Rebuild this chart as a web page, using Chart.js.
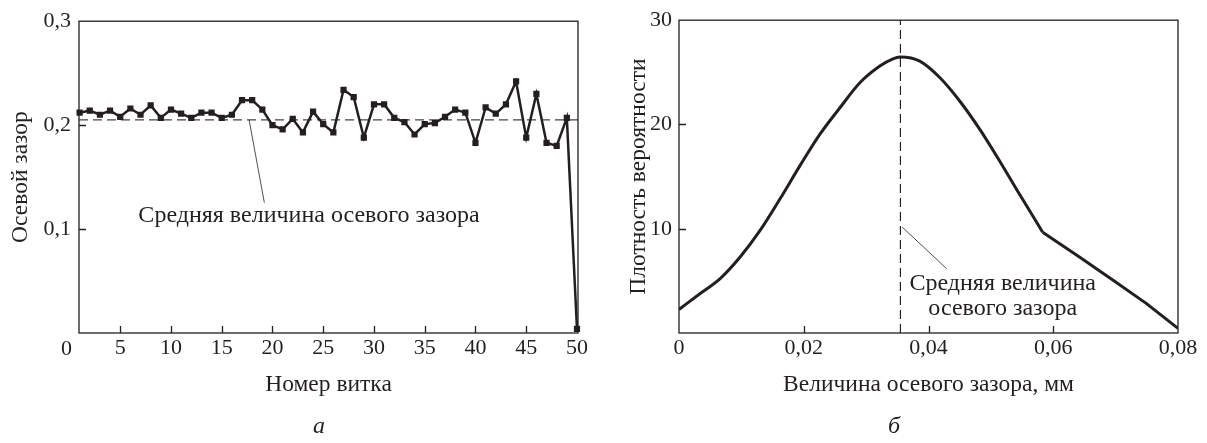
<!DOCTYPE html>
<html lang="ru">
<head>
<meta charset="utf-8">
<title>Осевой зазор</title>
<script src="https://cdn.jsdelivr.net/npm/chart.js@4.4.1/dist/chart.umd.min.js"></script>
<style>
  html, body { margin: 0; padding: 0; background: #fff; }
  #page { position: relative; width: 1207px; height: 443px; overflow: hidden; }
  .panel { position: absolute; top: 0; height: 443px; }
  .caption { position: absolute; top: 412px; font: italic 24px "Liberation Serif", serif; color: #231f20; }
</style>
</head>
<body>
<div id="page">
  <div class="panel" style="left:0;width:600px"><canvas id="gap-chart" width="600" height="443"></canvas></div>
  <div class="panel" style="left:600px;width:607px"><canvas id="density-chart" width="607" height="443"></canvas></div>
  <div class="caption" style="left:313px">а</div>
  <div class="caption" style="left:888px">б</div>
</div>
<script>
const INK = '#231f20';
const FONT = '"Liberation Serif", "Times New Roman", serif';

// (а) осевой зазор по номеру витка
const turnNumbers = [
  1, 2, 3, 4, 5, 6, 7, 8, 9, 10,
  11, 12, 13, 14, 15, 16, 17, 18, 19, 20,
  21, 22, 23, 24, 25, 26, 27, 28, 29, 30,
  31, 32, 33, 34, 35, 36, 37, 38, 39, 40,
  41, 42, 43, 44, 45, 46, 47, 48, 49, 50
];
const turnGaps = [
  0.212, 0.214, 0.210, 0.214, 0.208, 0.216, 0.210, 0.219, 0.207, 0.215,
  0.211, 0.207, 0.212, 0.212, 0.207, 0.210, 0.224, 0.224, 0.215, 0.200,
  0.196, 0.206, 0.193, 0.213, 0.201, 0.193, 0.234, 0.227, 0.188, 0.220,
  0.220, 0.207, 0.203, 0.191, 0.201, 0.202, 0.208, 0.215, 0.212, 0.183,
  0.217, 0.211, 0.220, 0.242, 0.188, 0.230, 0.183, 0.180, 0.207, 0.004
];
const meanTurnGap = 0.205;
const turnTicks = [5, 10, 15, 20, 25, 30, 35, 40, 45, 50];
const turnGapTicks = [0.1, 0.2, 0.3];

// (б) плотность вероятности величины зазора
const gapValues = [
  0, 0.0034, 0.0066, 0.0098, 0.013, 0.0162, 0.0194, 0.0226, 0.0258, 0.029,
  0.0322, 0.0343, 0.0355, 0.0386, 0.0418, 0.045, 0.0482, 0.0514, 0.0546, 0.0583,
  0.0642, 0.0696, 0.0749, 0.08
];
const densityValues = [
  2.26, 3.79, 5.22, 7.29, 9.84, 12.87, 16.05, 19.07, 21.6, 24.0,
  25.6, 26.3, 26.46, 26.07, 24.5, 22.25, 19.55, 16.5, 13.3, 9.67,
  7.29, 5.06, 2.84, 0.45
];
// после излома кривая идёт прямой
const kinkIndex = 19;
const meanGap = 0.0355;
const gapTicks = [0, 0.02, 0.04, 0.06, 0.08];
const densityTicks = [10, 20, 30];

const noteText = 'Средняя величина осевого зазора';

const fmt = v => String(+v.toFixed(2)).replace('.', ',');

// рамка, внутренние засечки, выноска и подпись
const frame = {
  id: 'frame',
  afterDatasetsDraw(chart, args, opts) {
    const { ctx, chartArea: a, scales: { x, y } } = chart;
    ctx.save();
    ctx.strokeStyle = INK;
    ctx.lineWidth = 1.3;
    ctx.strokeRect(a.left, a.top, a.right - a.left, a.bottom - a.top);

    ctx.beginPath();
    opts.xMarks.forEach(v => {
      const px = Math.round(x.getPixelForValue(v)) + 0.5;
      ctx.moveTo(px, a.bottom);
      ctx.lineTo(px, a.bottom - 7);
    });
    opts.yMarks.forEach(v => {
      const py = Math.round(y.getPixelForValue(v)) + 0.5;
      ctx.moveTo(a.left, py);
      ctx.lineTo(a.left + 7, py);
    });
    ctx.stroke();

    const [p, q] = opts.leader;
    ctx.lineWidth = 0.8;
    ctx.beginPath();
    ctx.moveTo(x.getPixelForValue(p[0]), y.getPixelForValue(p[1]));
    ctx.lineTo(x.getPixelForValue(q[0]), y.getPixelForValue(q[1]));
    ctx.stroke();

    ctx.fillStyle = INK;
    ctx.font = `24px ${FONT}`;
    ctx.textAlign = 'center';
    ctx.textBaseline = 'middle';
    opts.note.lines.forEach((t, i) => {
      ctx.fillText(t, x.getPixelForValue(opts.note.x), y.getPixelForValue(opts.note.y[i]));
    });
    if (opts.originLabel) {
      ctx.font = `22px ${FONT}`;
      ctx.fillText(opts.originLabel, x.getPixelForValue(0) - 3, a.bottom + 16);
    }
    ctx.restore();
  }
};

function axisFont(size) {
  return { family: FONT, size: size || 22 };
}

function baseScale(extra) {
  return Object.assign({
    type: 'linear',
    grid: { display: false, drawTicks: false },
    border: { display: false },
  }, extra);
}

new Chart(document.getElementById('gap-chart'), {
  type: 'line',
  data: {
    datasets: [{
      data: turnNumbers.map((n, i) => ({ x: n, y: turnGaps[i] })),
      borderColor: INK,
      borderWidth: 2.5,
      tension: 0,
      pointStyle: 'rect',
      pointRadius: 4.4,
      pointBackgroundColor: INK,
      pointBorderWidth: 0,
      clip: 8
    }, {
      data: [{ x: 0.94, y: meanTurnGap }, { x: 50.1, y: meanTurnGap }],
      borderColor: '#444',
      borderWidth: 1.3,
      borderDash: [9, 5],
      pointRadius: 0
    }]
  },
  options: {
    responsive: false,
    animation: false,
    events: [],
    layout: { padding: { left: 7, top: 19, right: 22, bottom: 44 } },
    plugins: {
      legend: { display: false },
      tooltip: { enabled: false },
      frame: {
        xMarks: turnTicks.slice(0, -1),
        yMarks: turnGapTicks.slice(0, -1),
        leader: [[17.7, meanTurnGap], [19.2, 0.1254]],
        note: { lines: [noteText], x: 23.6, y: [0.1125] },
        originLabel: '0'
      }
    },
    scales: {
      x: baseScale({
        min: 0.94, max: 50.1,
        afterBuildTicks: s => { s.ticks = turnTicks.map(value => ({ value })); },
        afterFit: s => { s.height = 66; },
        ticks: { color: INK, font: axisFont(), padding: 2, maxRotation: 0, autoSkip: false },
        title: { display: true, text: 'Номер витка', color: INK, font: axisFont(23.5), padding: 0 }
      }),
      y: baseScale({
        min: 0, max: 0.3,
        afterBuildTicks: s => { s.ticks = turnGapTicks.map(value => ({ value })); },
        afterFit: s => { s.width = 72; },
        ticks: { color: INK, font: axisFont(), padding: 8, callback: v => fmt(v) },
        title: { display: true, text: 'Осевой зазор', color: INK, font: axisFont(23.5), padding: 0 }
      })
    }
  },
  plugins: [frame]
});

const densityPoints = gapValues.map((g, i) => ({ x: g, y: densityValues[i] }));

new Chart(document.getElementById('density-chart'), {
  type: 'line',
  data: {
    datasets: [{
      data: densityPoints.slice(0, kinkIndex + 1),
      borderColor: INK,
      borderWidth: 3,
      cubicInterpolationMode: 'monotone',
      pointRadius: 0
    }, {
      data: densityPoints.slice(kinkIndex),
      borderColor: INK,
      borderWidth: 3,
      tension: 0,
      borderJoinStyle: 'round',
      pointRadius: 0
    }, {
      data: [{ x: meanGap, y: 0 }, { x: meanGap, y: 30 }],
      borderColor: INK,
      borderWidth: 1.2,
      borderDash: [9, 5],
      pointRadius: 0
    }]
  },
  options: {
    responsive: false,
    animation: false,
    events: [],
    layout: { padding: { left: 25, top: 19, right: 29, bottom: 44 } },
    plugins: {
      legend: { display: false },
      tooltip: { enabled: false },
      frame: {
        xMarks: gapTicks.slice(1, -1),
        yMarks: densityTicks.slice(0, -1),
        leader: [[0.0358, 10.15], [0.0429, 6.17]],
        note: { lines: ['Средняя величина', 'осевого зазора'], x: 0.0519, y: [4.75, 2.35] }
      }
    },
    scales: {
      x: baseScale({
        min: 0, max: 0.08,
        afterBuildTicks: s => { s.ticks = gapTicks.map(value => ({ value })); },
        afterFit: s => { s.height = 66; },
        ticks: { color: INK, font: axisFont(), padding: 2, maxRotation: 0, autoSkip: false, callback: v => fmt(v) },
        title: { display: true, text: 'Величина осевого зазора, мм', color: INK, font: axisFont(23.5), padding: 0 }
      }),
      y: baseScale({
        min: 0, max: 30,
        afterBuildTicks: s => { s.ticks = densityTicks.map(value => ({ value })); },
        afterFit: s => { s.width = 54; },
        ticks: { color: INK, font: axisFont(), padding: 7 },
        title: { display: true, text: 'Плотность вероятности', color: INK, font: axisFont(23.5), padding: 0 }
      })
    }
  },
  plugins: [frame]
});
</script>
</body>
</html>
